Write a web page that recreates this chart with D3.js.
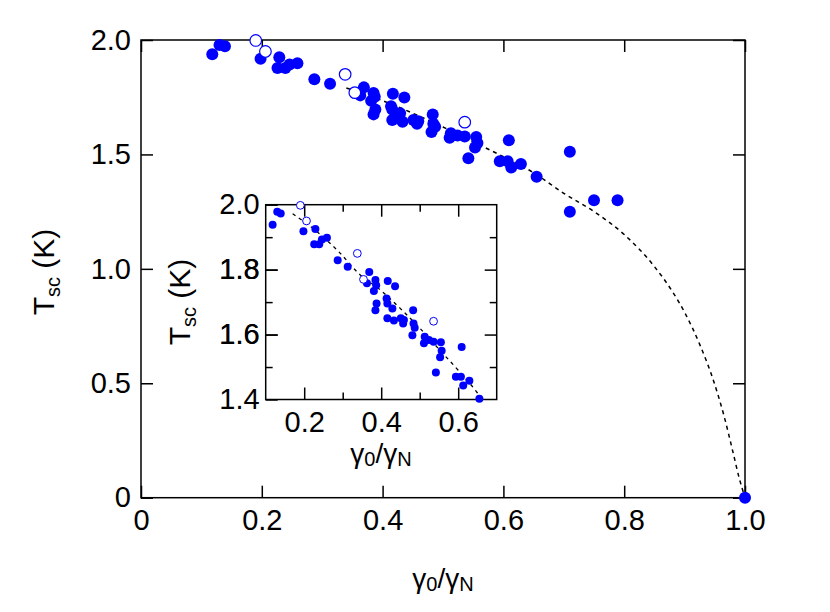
<!DOCTYPE html>
<html>
<head>
<meta charset="utf-8">
<script src="https://cdn.jsdelivr.net/npm/d3@7"></script>
<style>
  body { margin: 0; background: #fff; }
  text { font-family: "Liberation Sans", Arial, Helvetica, sans-serif; fill: #000; }
</style>
</head>
<body>
<div id="chart"></div>
<script>
// filled circles: gamma0/gammaN vs Tsc (K)
const filledX = [0.118, 0.130, 0.139, 0.198, 0.229, 0.226, 0.239, 0.246, 0.259, 0.287,
    0.313, 0.369, 0.363, 0.385, 0.387, 0.381, 0.417, 0.436, 0.388, 0.385,
    0.414, 0.416, 0.429, 0.416, 0.433, 0.451, 0.459, 0.457, 0.483, 0.484,
    0.487, 0.481, 0.513, 0.511, 0.524, 0.536, 0.555, 0.557, 0.553, 0.542,
    0.609, 0.594, 0.607, 0.613, 0.629, 0.655, 0.710, 0.710, 0.750, 0.789, 1.000];
const filledT = [1.938, 1.978, 1.973, 1.918, 1.925, 1.878, 1.878, 1.893, 1.898, 1.829,
    1.809, 1.793, 1.758, 1.768, 1.752, 1.734, 1.765, 1.749, 1.696, 1.675,
    1.711, 1.696, 1.680, 1.650, 1.643, 1.650, 1.645, 1.634, 1.675, 1.634,
    1.621, 1.598, 1.593, 1.573, 1.583, 1.578, 1.576, 1.550, 1.530, 1.483,
    1.562, 1.470, 1.470, 1.443, 1.458, 1.402, 1.512, 1.250, 1.300, 1.300, 0.000];

// open circles
const openX = [0.190, 0.206, 0.338, 0.354, 0.536];
const openT = [1.998, 1.950, 1.850, 1.770, 1.641];

// dashed guide curve
const curveX = [0.17, 0.23, 0.29, 0.34, 0.40, 0.45, 0.50, 0.55, 0.60, 0.65, 0.70,
    0.75, 0.80, 0.85, 0.88, 0.90, 0.925, 0.948, 0.965, 0.98, 0.99, 1.0];
const curveT = [1.972, 1.92, 1.855, 1.79, 1.735, 1.68, 1.62, 1.555, 1.49, 1.42, 1.33,
    1.25, 1.15, 1.01, 0.90, 0.81, 0.67, 0.51, 0.36, 0.20, 0.09, 0];

const mainXTicks = [0, 0.2, 0.4, 0.6, 0.8, 1.0];
const mainYTicks = [0, 0.5, 1.0, 1.5, 2.0];
const insetXTicks = [0.2, 0.3, 0.4, 0.5, 0.6];
const insetXLabels = [0.2, 0.4, 0.6];
const insetYTicks = [1.5, 1.6, 1.7, 1.8, 1.9];
const insetYLabels = [1.4, 1.6, 1.8, 2.0];

const filled = filledX.map((x, i) => ({ x: x, t: filledT[i] }));
const open = openX.map((x, i) => ({ x: x, t: openT[i] }));
const curve = curveX.map((x, i) => ({ x: x, t: curveT[i] }));

const blue = '#0000ff';
const fmt = d => d === 0 ? '0' : d3.format('.1f')(d);

const svg = d3.select('#chart')
    .append('svg')
    .attr('width', 830)
    .attr('height', 612);

svg.append('rect').attr('width', 830).attr('height', 612).attr('fill', '#fff');

// ---------- main plot ----------
const x = d3.scaleLinear().domain([0, 1]).range([141, 745]);
const y = d3.scaleLinear().domain([0, 2]).range([497.7, 40]);

const main = svg.append('g');

function styleAxis(g, size) {
    g.select('.domain').remove();
    g.selectAll('line').attr('stroke', '#000').attr('stroke-width', 1.5);
    g.selectAll('text').style('font-size', size + 'px');
}

main.append('g')
    .attr('transform', 'translate(0,' + y(0) + ')')
    .call(d3.axisBottom(x).tickValues(mainXTicks).tickFormat(fmt).tickSizeInner(-12).tickSizeOuter(0).tickPadding(12))
    .call(g => styleAxis(g, 29));
main.append('g')
    .attr('transform', 'translate(0,' + y(2) + ')')
    .call(d3.axisTop(x).tickValues(mainXTicks).tickFormat('').tickSizeInner(-12).tickSizeOuter(0))
    .call(g => styleAxis(g, 29));
main.append('g')
    .attr('transform', 'translate(' + x(0) + ',0)')
    .call(d3.axisLeft(y).tickValues(mainYTicks).tickFormat(fmt).tickSizeInner(-12).tickSizeOuter(0).tickPadding(10))
    .call(g => styleAxis(g, 29));
main.append('g')
    .attr('transform', 'translate(' + x(1) + ',0)')
    .call(d3.axisRight(y).tickValues(mainYTicks).tickFormat('').tickSizeInner(-12).tickSizeOuter(0))
    .call(g => styleAxis(g, 29));

main.append('rect')
    .attr('x', x(0)).attr('y', y(2))
    .attr('width', x(1) - x(0)).attr('height', y(0) - y(2))
    .attr('fill', 'none').attr('stroke', '#000').attr('stroke-width', 1.5);

const mainLine = d3.line().x(d => x(d.x)).y(d => y(d.t)).curve(d3.curveMonotoneX);
main.append('path')
    .datum(curve.filter(d => d.x >= 0.335))
    .attr('d', mainLine)
    .attr('fill', 'none').attr('stroke', '#000')
    .attr('stroke-width', 1.5).attr('stroke-dasharray', '4,4');

main.selectAll('.dot')
    .data(filled)
    .enter().append('circle')
    .attr('class', 'dot')
    .attr('cx', d => x(d.x)).attr('cy', d => y(d.t))
    .attr('r', 6).attr('fill', blue);

main.selectAll('.odot')
    .data(open)
    .enter().append('circle')
    .attr('class', 'odot')
    .attr('cx', d => x(d.x)).attr('cy', d => y(d.t))
    .attr('r', 5.8).attr('fill', '#fff').attr('stroke', blue).attr('stroke-width', 1.2);

// axis titles
function tscTitle(g, cx, cy) {
    const t = g.append('text')
        .attr('transform', 'translate(' + cx + ',' + cy + ') rotate(-90)')
        .attr('text-anchor', 'middle')
        .style('font-size', '30px');
    t.append('tspan').text('T');
    t.append('tspan').attr('dy', 6).style('font-size', '20px').text('sc');
    t.append('tspan').attr('dy', -6).text(' (K)');
}
function gammaTitle(g, cx, cy) {
    const t = g.append('text')
        .attr('x', cx).attr('y', cy)
        .attr('text-anchor', 'middle')
        .style('font-size', '28px');
    t.append('tspan').text('γ');
    t.append('tspan').attr('dy', 3).style('font-size', '20px').text('0');
    t.append('tspan').attr('dy', -3).text('/γ');
    t.append('tspan').attr('dy', 3).style('font-size', '20px').text('N');
}
tscTitle(main, 54, 272);
gammaTitle(main, 443, 588);

// ---------- inset ----------
const ix = d3.scaleLinear().domain([0.1, 0.7]).range([265.7, 496.7]);
const iy = d3.scaleLinear().domain([1.4, 2.0]).range([399.5, 204.7]);

const inset = svg.append('g');

inset.append('rect')
    .attr('x', ix(0.1)).attr('y', iy(2))
    .attr('width', ix(0.7) - ix(0.1)).attr('height', iy(1.4) - iy(2))
    .attr('fill', '#fff');

inset.append('clipPath').attr('id', 'insetClip')
    .append('rect')
    .attr('x', ix(0.1)).attr('y', iy(2))
    .attr('width', ix(0.7) - ix(0.1)).attr('height', iy(1.4) - iy(2));

// unlabelled inset ticks are shorter
function insetTicks(g, labels) {
    g.selectAll('.tick line')
        .attr('y2', function (d) { return +d3.select(this).attr('y2') * (labels.includes(d) ? 1 : 0.58); })
        .attr('x2', function (d) { return +d3.select(this).attr('x2') * (labels.includes(d) ? 1 : 0.58); });
}

inset.append('g')
    .attr('transform', 'translate(0,' + iy(1.4) + ')')
    .call(d3.axisBottom(ix).tickValues(insetXTicks)
        .tickFormat(d => insetXLabels.includes(d) ? fmt(d) : '')
        .tickSizeInner(-12).tickSizeOuter(0).tickPadding(12))
    .call(g => styleAxis(g, 29))
    .call(g => insetTicks(g, insetXLabels));
inset.append('g')
    .attr('transform', 'translate(0,' + iy(2) + ')')
    .call(d3.axisTop(ix).tickValues(insetXTicks).tickFormat('').tickSizeInner(-12).tickSizeOuter(0))
    .call(g => styleAxis(g, 29))
    .call(g => insetTicks(g, insetXLabels));
inset.append('g')
    .attr('transform', 'translate(' + ix(0.1) + ',0)')
    .call(d3.axisLeft(iy).tickValues(insetYLabels.concat(insetYTicks))
        .tickFormat(d => insetYLabels.includes(d) ? fmt(d) : '')
        .tickSizeInner(-12).tickSizeOuter(0).tickPadding(6))
    .call(g => styleAxis(g, 29))
    .call(g => insetTicks(g, insetYLabels));
inset.append('g')
    .attr('transform', 'translate(' + ix(0.7) + ',0)')
    .call(d3.axisRight(iy).tickValues(insetYTicks).tickFormat('').tickSizeInner(-12).tickSizeOuter(0))
    .call(g => styleAxis(g, 29))
    .call(g => insetTicks(g, insetYLabels));

inset.append('rect')
    .attr('x', ix(0.1)).attr('y', iy(2))
    .attr('width', ix(0.7) - ix(0.1)).attr('height', iy(1.4) - iy(2))
    .attr('fill', 'none').attr('stroke', '#000').attr('stroke-width', 1.5);

const insetLine = d3.line().x(d => ix(d.x)).y(d => iy(d.t)).curve(d3.curveMonotoneX);
inset.append('path')
    .datum(curve.filter(d => d.x <= 0.75))
    .attr('d', insetLine)
    .attr('clip-path', 'url(#insetClip)')
    .attr('fill', 'none').attr('stroke', '#000')
    .attr('stroke-width', 1.3).attr('stroke-dasharray', '3.5,4');

inset.selectAll('.dot')
    .data(filled.filter(d => d.x >= 0.1 && d.x <= 0.7 && d.t >= 1.39))
    .enter().append('circle')
    .attr('class', 'dot')
    .attr('cx', d => ix(d.x)).attr('cy', d => iy(d.t))
    .attr('r', 4).attr('fill', blue);

inset.selectAll('.odot')
    .data(open.filter(d => d.x >= 0.1 && d.x <= 0.7 && d.t >= 1.39))
    .enter().append('circle')
    .attr('class', 'odot')
    .attr('cx', d => ix(d.x)).attr('cy', d => iy(d.t))
    .attr('r', 3.9).attr('fill', '#fff').attr('stroke', blue).attr('stroke-width', 1);

tscTitle(inset, 190, 302);
gammaTitle(inset, 381, 463);
</script>
</body>
</html>
